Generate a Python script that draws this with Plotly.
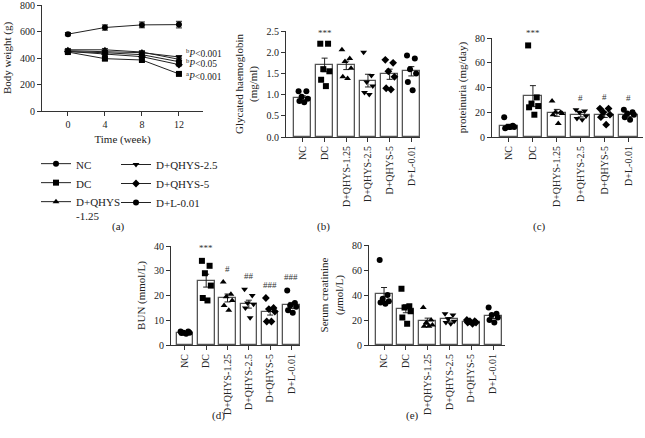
import plotly.graph_objects as go

W, H = 645, 438
FONT = "Liberation Serif"

# ---- panel (a): body weight over time ----
weeks = [0, 4, 8, 12]
bw_nc = [580, 630, 650, 652]
bw_nc_err = [12, 20, 22, 25]
bw_dc = [445, 395, 385, 280]
bw_dc_err = [10, 12, 12, 8]
bw_q125 = [462, 462, 445, 390]
bw_q125_err = [10, 10, 10, 10]
bw_q25 = [455, 450, 440, 408]
bw_q25_err = [10, 10, 10, 10]
bw_q5 = [450, 430, 410, 350]
bw_q5_err = [10, 10, 10, 10]
bw_l = [448, 440, 425, 372]
bw_l_err = [10, 10, 10, 10]

groups = ["NC", "DC", "D+QHYS-1.25", "D+QHYS-2.5", "D+QHYS-5", "D+L-0.01"]
symbols = ["circle", "square", "triangle-up", "triangle-down", "diamond", "circle"]

# ---- panel (b): glycated haemoglobin ----
hb_mean = [0.92, 1.70, 1.69, 1.33, 1.48, 1.55]
hb_sem = [0.05, 0.16, 0.10, 0.15, 0.12, 0.11]
hb_pts = [
    [1.08, 1.08, 0.95, 0.90, 0.85, 0.82],
    [2.20, 2.20, 1.60, 1.55, 1.35, 1.20],
    [2.06, 1.85, 1.78, 1.62, 1.42, 1.38],
    [2.00, 1.45, 1.30, 1.20, 1.05, 1.00],
    [1.82, 1.75, 1.55, 1.42, 1.15, 1.12],
    [1.92, 1.85, 1.60, 1.50, 1.30, 1.10],
]
hb_marks = ["", "***", "", "", "", ""]

# ---- panel (c): proteinuria ----
pu_mean = [8.5, 33.0, 19.5, 18.0, 18.0, 18.0]
pu_sem = [1.8, 8.5, 2.8, 1.8, 2.2, 1.3]
pu_pts = [
    [16, 9, 8, 8, 7, 8],
    [74, 32, 27, 25, 24, 18],
    [29, 20, 20, 19, 18, 11],
    [22, 21, 20, 17, 15, 14],
    [23, 23, 20, 18, 16, 10],
    [22, 20, 19, 18, 16, 14],
]
pu_marks = ["", "***", "", "#", "#", "#"]

# ---- panel (d): BUN ----
bun_mean = [5.0, 26.0, 19.0, 16.5, 13.5, 16.0]
bun_sem = [0.3, 2.6, 1.6, 1.6, 1.4, 1.2]
bun_pts = [
    [5.5, 5.5, 5.0, 5.0, 4.8, 4.5],
    [34, 32, 29, 24, 19, 18],
    [25.5, 20.5, 19.5, 18, 16, 14],
    [22.5, 20, 17, 16.5, 15, 11],
    [19, 15, 14.5, 13.5, 9.5, 9.5],
    [22, 17, 16, 15.5, 14, 13],
]
bun_marks = ["", "***", "#", "##", "###", "###"]

# ---- panel (e): serum creatinine ----
cr_mean = [40.5, 29.0, 19.0, 20.5, 18.5, 23.0]
cr_sem = [5.5, 3.2, 2.5, 1.4, 0.8, 1.8]
cr_pts = [
    [68, 40, 37, 35, 34, 33],
    [45, 31, 30, 27, 22, 17],
    [30, 20, 18, 16, 15, 15],
    [25, 24, 21, 19, 18, 17],
    [20, 19, 19, 18, 18, 17],
    [30, 25, 24, 22, 20, 18],
]
cr_marks = ["", "", "", "", "", ""]

# p-value notes at week 12 (panel a)
p_notes_y = [435, 362, 262]
p_notes = ["<sup>b</sup><i>P</i>&lt;0.001", "<sup>b</sup><i>P</i>&lt;0.05",
           "<sup>a</sup><i>P</i>&lt;0.001"]

jitter = [-0.2, 0.16, -0.06, 0.22, -0.16, 0.06]


def px_dom(a, b):
    return [a / W, b / W]


def py_dom(top, bottom):
    return [1 - bottom / H, 1 - top / H]


fig = go.Figure()

# panel a lines
series_a = [
    (bw_nc, bw_nc_err), (bw_dc, bw_dc_err), (bw_q125, bw_q125_err),
    (bw_q25, bw_q25_err), (bw_q5, bw_q5_err), (bw_l, bw_l_err),
]
legend_names = ["NC", "DC", "D+QHYS<br>-1.25", "D+QHYS-2.5", "D+QHYS-5", "D+L-0.01"]
for i, (vals, err) in enumerate(series_a):
    fig.add_trace(go.Scatter(
        x=weeks, y=vals, mode="lines+markers", name=legend_names[i],
        line=dict(color="#222", width=1),
        marker=dict(symbol=symbols[i], size=6, color="black"),
        error_y=dict(type="data", array=err, color="#222", thickness=1, width=3),
        xaxis="x", yaxis="y",
        legend="legend" if i < 3 else "legend2",
    ))

bar_panels = [
    (hb_mean, hb_sem, hb_pts, hb_marks, "x2", "y2", 0.08),
    (pu_mean, pu_sem, pu_pts, pu_marks, "x3", "y3", 4),
    (bun_mean, bun_sem, bun_pts, bun_marks, "x4", "y4", 2.5),
    (cr_mean, cr_sem, cr_pts, cr_marks, "x5", "y5", 4),
]
for means, sems, pts, marks, xa, ya, gap in bar_panels:
    fig.add_trace(go.Bar(
        x=list(range(6)), y=means, width=0.78, showlegend=False,
        marker=dict(color="white", line=dict(color="#555", width=1.3)),
        error_y=dict(type="data", array=sems, color="#222", thickness=1, width=3),
        xaxis=xa, yaxis=ya,
    ))
    for g, vals in enumerate(pts):
        fig.add_trace(go.Scatter(
            x=[g + jitter[k] for k in range(len(vals))], y=vals, mode="markers",
            marker=dict(symbol=symbols[g], size=6, color="black"),
            showlegend=False, xaxis=xa, yaxis=ya,
        ))
        if marks[g]:
            top = max(max(vals), means[g] + sems[g])
            fig.add_annotation(
                x=g, y=top + gap, xref=xa, yref=ya, text=marks[g], showarrow=False,
                yanchor="bottom", font=dict(family=FONT, size=9, color="#333"),
            )

axis_common = dict(
    showline=True, linecolor="#333", linewidth=1.2, ticks="outside", ticklen=4,
    tickcolor="#333", showgrid=False, zeroline=False, automargin=False,
    ticklabeloverflow="allow",
    tickfont=dict(family=FONT, size=10, color="#222"),
)
cat_common = dict(axis_common, tickvals=list(range(6)), ticktext=groups, tickangle=-90)
ttl = dict(family=FONT, size=11, color="#222")

fig.update_layout(
    width=W, height=H, margin=dict(l=0, r=0, t=0, b=0, autoexpand=False),
    paper_bgcolor="white", plot_bgcolor="white",
    font=dict(family=FONT, size=10, color="#222"),
    bargap=0,
    xaxis=dict(axis_common, domain=px_dom(42, 203), range=[-2.8, 14.6],
               tickvals=weeks, anchor="y",
               title=dict(text="Time (week)", font=ttl, standoff=6)),
    yaxis=dict(axis_common, domain=py_dom(5, 111), range=[0, 800], dtick=200,
               anchor="x", title=dict(text="Body weight (g)", font=ttl, standoff=6)),
    xaxis2=dict(cat_common, domain=px_dom(286, 420), range=[-0.78, 5.4], anchor="y2"),
    yaxis2=dict(axis_common, domain=py_dom(31, 137), range=[0, 2.5], dtick=0.5,
                tickformat=".1f", anchor="x2",
                title=dict(text="Glycated haemoglobin<br>(mg/ml)", font=ttl, standoff=6)),
    xaxis3=dict(cat_common, domain=px_dom(492, 643), range=[-0.71, 5.6], anchor="y3"),
    yaxis3=dict(axis_common, domain=py_dom(38, 137), range=[0, 80], dtick=20, anchor="x3",
                title=dict(text="proteinuria (mg/day)", font=ttl, standoff=6)),
    xaxis4=dict(cat_common, domain=px_dom(171, 300), range=[-0.65, 5.4], anchor="y4"),
    yaxis4=dict(axis_common, domain=py_dom(246, 345), range=[0, 40], dtick=10, anchor="x4",
                title=dict(text="BUN (mmol/L)", font=ttl, standoff=6)),
    xaxis5=dict(cat_common, domain=px_dom(369, 505), range=[-0.69, 5.55], anchor="y5"),
    yaxis5=dict(axis_common, domain=py_dom(245, 345), range=[0, 80], dtick=20, anchor="x5",
                title=dict(text="Serum creatinine<br>(<i>μ</i>mol/L)", font=ttl, standoff=6)),
    legend=dict(x=36 / W, y=1 - 150 / H, xanchor="left", yanchor="top", valign="top",
                bgcolor="rgba(0,0,0,0)", font=dict(family=FONT, size=11),
                itemwidth=30, tracegroupgap=0),
    legend2=dict(x=116 / W, y=1 - 150 / H, xanchor="left", yanchor="top",
                 bgcolor="rgba(0,0,0,0)", font=dict(family=FONT, size=11),
                 itemwidth=30, tracegroupgap=0),
)

for yv, txt in zip(p_notes_y, p_notes):
    fig.add_annotation(x=12.5, y=yv, xref="x", yref="y", text=txt, showarrow=False,
                       xanchor="left", font=dict(family=FONT, size=9.5, color="#222"))

# panel letters
for lx, ly, lab in [(110, 226, "(a)"), (323, 226, "(b)"), (548, 226, "(c)"),
                    (218, 424, "(d)"), (412, 424, "(e)")]:
    fig.add_annotation(x=lx / W, y=1 - ly / H, xref="paper", yref="paper", text=lab,
                       showarrow=False, font=dict(family=FONT, size=11, color="#222"))

fig.write_html("out.html", config={"displayModeBar": False},
               post_script="document.body.style.margin='0';")
